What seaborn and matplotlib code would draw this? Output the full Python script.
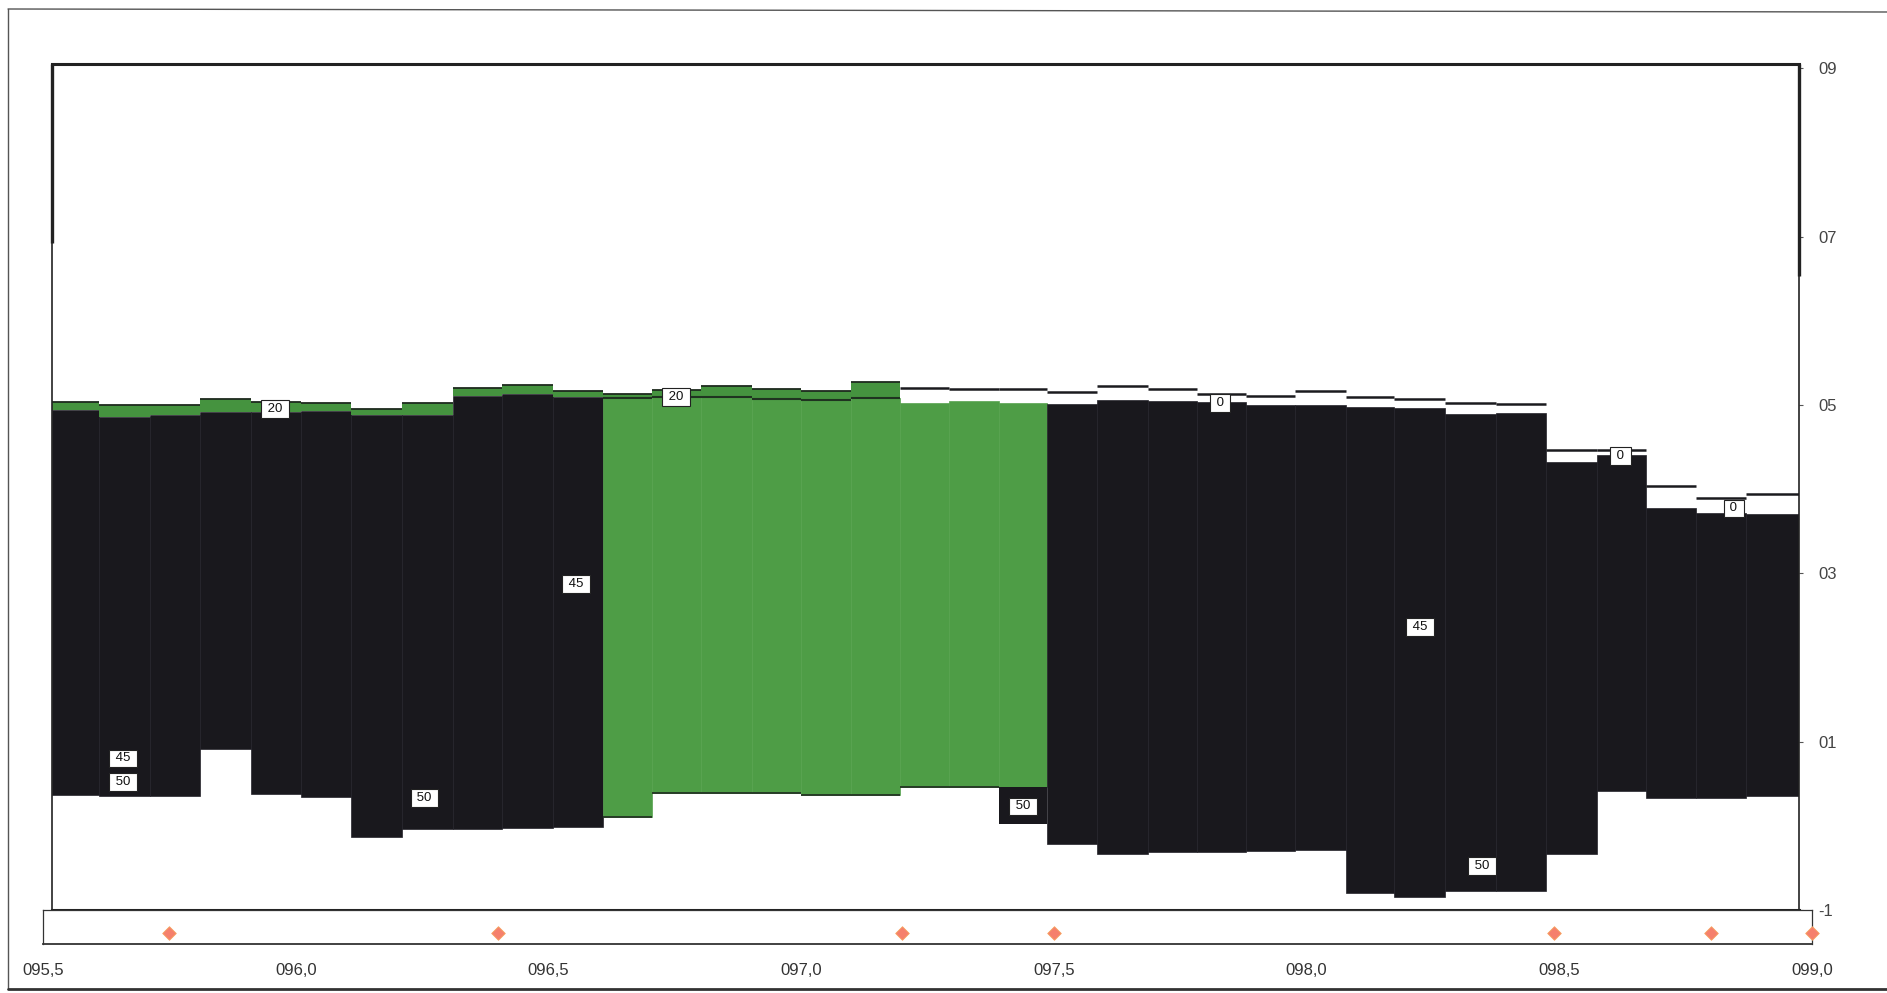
import numpy as np
import matplotlib
matplotlib.use("Agg")
import matplotlib.pyplot as plt
import seaborn as sns
from matplotlib.lines import Line2D
from matplotlib.ticker import MultipleLocator, FixedLocator, FixedFormatter

# ---------------- data ----------------
# chainage of column edges (km)
edges = [95.518, 95.611, 95.712, 95.811, 95.912, 96.010, 96.109, 96.210, 96.311,
         96.408, 96.509, 96.608, 96.705, 96.802, 96.903, 97.000, 97.099, 97.196,
         97.293, 97.392, 97.487, 97.585, 97.686, 97.783, 97.880, 97.977, 98.078,
         98.173, 98.274, 98.375, 98.474, 98.575, 98.672, 98.772, 98.870, 98.975]
fill_kind = ["black"] * 11 + ["green"] * 9 + ["black"] * 15
# lower boundary of the filled column
bottom = [0.37, 0.36, 0.35, 0.91, 0.38, 0.34, -0.13, -0.035, -0.035, -0.03, -0.01,
          0.10, 0.39, 0.39, 0.385, 0.37, 0.37, 0.46, 0.46, 0.02,
          -0.22, -0.33, -0.31, -0.31, -0.30, -0.29, -0.80, -0.84, -0.78, -0.77,
          -0.33, 0.41, 0.33, 0.33, 0.35]
# top of an extra black layer under the green fill (NaN = none)
under_top = [np.nan] * 19 + [0.46] + [np.nan] * 15
# top of main fill
mid = [4.94, 4.86, 4.885, 4.92, 4.92, 4.93, 4.88, 4.88, 5.105, 5.125, 5.095,
       5.08, 5.09, 5.095, 5.075, 5.06, 5.08, 5.02, 5.045, 5.02,
       5.01, 5.06, 5.05, 5.03, 4.995, 5.00, 4.97, 4.96, 4.89, 4.91,
       4.325, 4.40, 3.78, 3.72, 3.70]
# top of thin green surface layer
top = [5.03, 4.995, 4.995, 5.07, 5.03, 5.02, 4.955, 5.02, 5.205, 5.235, 5.17,
       5.125, 5.175, 5.225, 5.19, 5.17, 5.27, 5.02, 5.045, 5.02,
       5.01, 5.06, 5.05, 5.03, 4.995, 5.00, 4.97, 4.96, 4.89, 4.91,
       4.325, 4.40, 3.78, 3.72, 3.70]
# separate thin upper line (NaN = none)
upper_line = [np.nan] * 17 + [5.205, 5.195, 5.19,
              5.15, 5.225, 5.19, 5.13, 5.11, 5.167, 5.09, 5.07, 5.02, 5.01,
              4.46, 4.46, 4.04, 3.90, 3.94]

label_text = ["45", "50", "50", "45", "20", "20", "0", "50", "45", "50", "0", "0"]
label_x = [95.658, 95.658, 96.255, 96.555, 95.960, 96.753, 97.829, 97.439,
           98.225, 98.348, 98.622, 98.846]
label_y = [0.80, 0.518, 0.33, 2.876, 4.95, 5.09, 5.02, 0.23, 2.36, -0.48, 4.39, 3.77]

marker_x = [95.75, 96.40, 97.20, 97.50, 98.49, 98.80, 99.00]

y_ticks = [9, 7, 5, 3, 1, -1]
y_ticklabels = ["09", "07", "05", "03", "01", "-1"]
x_ticks = [95.5, 96.0, 96.5, 97.0, 97.5, 98.0, 98.5, 99.0]
x_ticklabels = ["095,5", "096,0", "096,5", "097,0", "097,5", "098,0", "098,5", "099,0"]

# ---------------- styling ----------------
sns.set_style("white")
plt.rcParams["font.family"] = ["Liberation Sans", "DejaVu Sans"]

BLACK = "#19181d"
BLACK_EDGE = "#24232a"
GREEN = "#4e9d46"
GREEN_EDGE = "#56a34e"
TOPGREEN = "#45933f"
DARK = "#222222"

W, H = 1887, 993
fig = plt.figure(figsize=(W / 100, H / 100), dpi=100)
fig.patch.set_facecolor("white")

def fx(px):
    return px / W

def fy(py):
    return 1 - py / H

# main profile axes
ax = fig.add_axes([fx(52), fy(910), fx(1799) - fx(52), fy(64) - fy(910)])
ax.set_facecolor("white")

e = np.array(edges)
x0 = e[:-1]
w = np.diff(e)
bottom = np.array(bottom)
under_top = np.array(under_top)
mid = np.array(mid)
top = np.array(top)
upper_line = np.array(upper_line)
green = np.array([k == "green" for k in fill_kind])

fill_start = np.where(np.isnan(under_top), bottom, under_top)
colors = [GREEN if g else BLACK for g in green]
ecols = [GREEN_EDGE if g else BLACK_EDGE for g in green]

ax.bar(x0, mid - fill_start, bottom=fill_start, width=w, align="edge",
       color=colors, edgecolor=ecols, linewidth=0.5, zorder=2)

m_under = ~np.isnan(under_top)
ax.bar(x0[m_under], under_top[m_under] - bottom[m_under], bottom=bottom[m_under],
       width=w[m_under], align="edge", color=BLACK, linewidth=0, zorder=2)

m_top = top > mid + 1e-9
ax.bar(x0[m_top], top[m_top] - mid[m_top], bottom=mid[m_top], width=w[m_top],
       align="edge", color=TOPGREEN, linewidth=0, zorder=2)
ax.hlines(top[m_top], x0[m_top], x0[m_top] + w[m_top], color="#1e2a1e", lw=1.3, zorder=3)
gm = m_top & green
ax.hlines(mid[gm], x0[gm], x0[gm] + w[gm], color="#1f3320", lw=1.5, zorder=3)
ax.hlines(bottom[green & ~m_under], x0[green & ~m_under],
          x0[green & ~m_under] + w[green & ~m_under], color="#1f2a1f", lw=1.2, zorder=3)

m_line = ~np.isnan(upper_line)
ax.hlines(upper_line[m_line], x0[m_line], x0[m_line] + w[m_line],
          color="#1a1a1e", lw=1.8, zorder=3)

for t, lx, ly in zip(label_text, label_x, label_y):
    ax.text(lx, ly, " " + t + " ", ha="center", va="center", fontsize=9.5,
            color="#111111", zorder=6,
            bbox=dict(boxstyle="square,pad=0.22", fc="white", ec="#222222", lw=0.8))

ax.set_xlim(edges[0], edges[-1])
ax.set_ylim(-1, 9.05)
ax.set_xticks([])
ax.yaxis.tick_right()
ax.yaxis.set_major_locator(FixedLocator(y_ticks))
ax.yaxis.set_major_formatter(FixedFormatter(y_ticklabels))
ax.tick_params(axis="y", which="major", right=True, left=False, length=3,
               width=0.8, color="#555555", labelsize=12, labelcolor="#444444", pad=11)
for s in ax.spines.values():
    s.set_visible(True)
    s.set_color(DARK)
    s.set_linewidth(1.2)
ax.spines["top"].set_linewidth(2.2)
ax.spines["bottom"].set_linewidth(2.2)
# thicker upper parts of the side frame lines
ax.plot([0, 0], [1, 1 - (243 - 64) / 846], transform=ax.transAxes, color=DARK,
        lw=2.4, clip_on=False, zorder=7, solid_capstyle="butt")
ax.plot([1, 1], [1, 1 - (276 - 64) / 846], transform=ax.transAxes, color=DARK,
        lw=2.4, clip_on=False, zorder=7, solid_capstyle="butt")

# lower chainage strip
sax = fig.add_axes([fx(43), fy(944), fx(1812) - fx(43), fy(910) - fy(944)])
sax.set_facecolor("white")
sax.set_xlim(95.5, 99.0)
sax.set_ylim(0, 1)
sns.scatterplot(x=marker_x, y=[0.32] * len(marker_x), ax=sax, marker="D", s=48,
                color="#f5806c", edgecolor="#f7a35f", linewidth=0.6, zorder=5,
                clip_on=False, legend=False)
sax.set_yticks([])
sax.xaxis.set_major_locator(FixedLocator(x_ticks))
sax.xaxis.set_major_formatter(FixedFormatter(x_ticklabels))
sax.xaxis.set_minor_locator(MultipleLocator(0.1))
sax.tick_params(axis="x", which="major", direction="inout", length=4, width=0.8,
                color="#333333", labelsize=12, labelcolor="#333333", pad=12)
sax.tick_params(axis="x", which="minor", direction="inout", length=3, width=0.6,
                color="#333333")
for s in sax.spines.values():
    s.set_visible(True)
    s.set_color("#333333")
    s.set_linewidth(0.9)
sax.spines["bottom"].set_linewidth(1.3)

# outer page frame
fig.add_artist(Line2D([fx(8), 1], [fy(9), fy(12)], transform=fig.transFigure,
                      color="#555555", lw=1.0))
fig.add_artist(Line2D([fx(8), fx(8)], [fy(9), fy(989)], transform=fig.transFigure,
                      color="#555555", lw=1.0))
fig.add_artist(Line2D([fx(8), 1], [fy(989), fy(989)], transform=fig.transFigure,
                      color="#333333", lw=2.0))

fig.savefig("out.png", dpi=100, facecolor="white")
